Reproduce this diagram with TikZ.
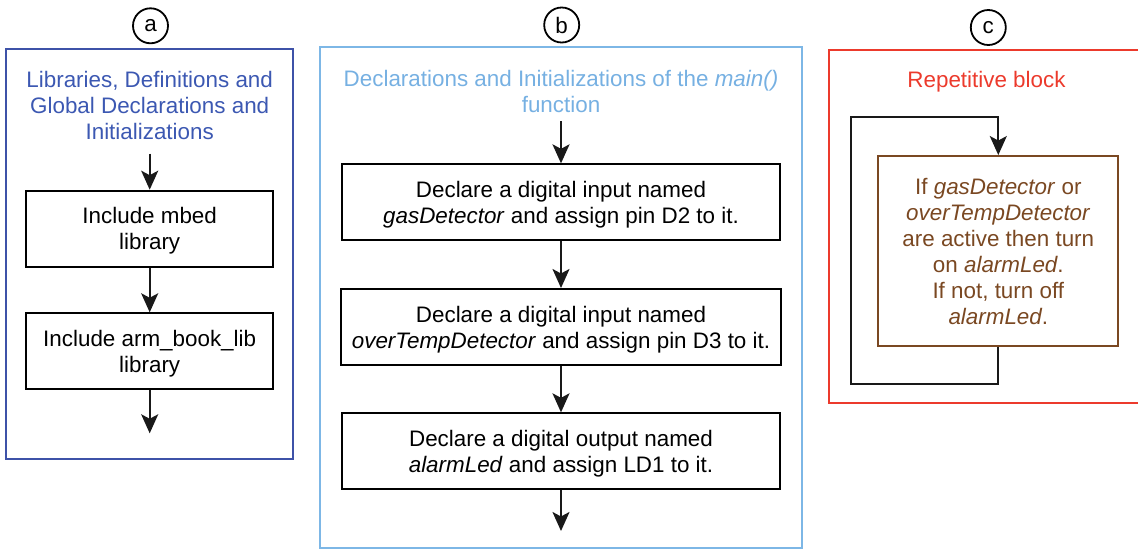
\documentclass[tikz,border=0pt]{standalone}
\usepackage{fontspec}
\setmainfont{Liberation Sans}
\usetikzlibrary{arrows.meta}
\definecolor{panA}{RGB}{62,82,168}
\definecolor{txtA}{RGB}{60,88,178}
\definecolor{panB}{RGB}{125,183,230}
\definecolor{txtB}{RGB}{118,176,226}
\definecolor{panC}{RGB}{236,58,44}
\definecolor{brn}{RGB}{122,72,34}
\begin{document}
\begin{tikzpicture}[x=1pt,y=-1pt,
  every node/.style={inner sep=0pt},
  fnt/.style={font=\fontsize{22.4}{26}\selectfont},
  title/.style={fnt, align=center},
  stepbox/.style={fnt, align=center, draw=black, line width=2pt},
  panel/.style={draw, line width=2pt},
  lbl/.style={circle, draw=black, line width=1.8pt, minimum size=35pt, fnt},
  arr/.style={draw=black!90, line width=2.2pt, -{Stealth[length=19pt,width=17pt,inset=4.5pt]}}]
\clip (0,0) rectangle (1138,549);
% panels
\node[panel, draw=panA, minimum width=287.6pt, minimum height=410pt] (pa) at (149.5,254.3) {};
\node[panel, draw=panB, minimum width=482pt, minimum height=501.2pt] (pb) at (561,297.1) {};
\node[panel, draw=panC, minimum width=320.7pt, minimum height=353pt] (pc) at (989.6,226.5) {};
% circled labels
\node[lbl] (la) at (150.5,25.8) {a};
\node[lbl] (lb) at (561.7,25) {b};
\node[lbl] (lc) at (988.3,27.5) {c};
% titles
\node[title, text=txtA, anchor=north] (ta) at (149.7,71.3) {Libraries, Definitions and\\Global Declarations and\\Initializations};
\node[title, text=txtB, anchor=north] (tb) at (561,70) {Declarations and Initializations of the \textit{main()}\\function};
\node[fnt, text=panC, anchor=base] (tc) at (986.5,87) {Repetitive block};
% panel a
\node[stepbox, minimum width=247pt, minimum height=76pt] (a1) at (149.7,228.7) {Include mbed\\\smash{library}};
\node[stepbox, minimum width=247pt, minimum height=76pt] (a2) at (149.7,351.3) {Include arm\_book\_lib\\\smash{library}};
\coordinate (ea) at (149.7,433.3);
\draw[arr] ([yshift=-13.4pt]ta.south) -- (a1.north);
\draw[arr] (a1.south) -- (a2.north);
\draw[arr] (a2.south) -- (ea);
% panel b
\node[stepbox, minimum width=438.3pt, minimum height=75.7pt] (b1) at (561,202.2) {Declare a digital input named\\\smash{\textit{gasDetector} and assign pin D2 to it.}};
\node[stepbox, minimum width=440.7pt, minimum height=76pt] (b2) at (561,327) {Declare a digital input named\\\smash{\textit{overTempDetector} and assign pin D3 to it.}};
\node[stepbox, minimum width=438.3pt, minimum height=75.7pt] (b3) at (561,451.2) {Declare a digital output named\\\smash{\textit{alarmLed} and assign LD1 to it.}};
\coordinate (eb) at (561,531);
\draw[arr] ([yshift=-8.4pt]tb.south) -- (b1.north);
\draw[arr] (b1.south) -- (b2.north);
\draw[arr] (b2.south) -- (b3.north);
\draw[arr] (b3.south) -- (eb);
% panel c
\node[stepbox, draw=brn, text=brn, minimum width=240pt, minimum height=189.7pt] (c1) at (998.3,250.9) {If \textit{gasDetector} or\\\textit{overTempDetector}\\are active then turn\\on \textit{alarmLed}.\\If not, turn off\\\smash{\textit{alarmLed}.}};
\draw[arr] (c1.south) -- ++(0,37.3) -- ++(-147.3,0) |- ([yshift=37.7pt]c1.north) -- (c1.north);
\end{tikzpicture}
\end{document}
